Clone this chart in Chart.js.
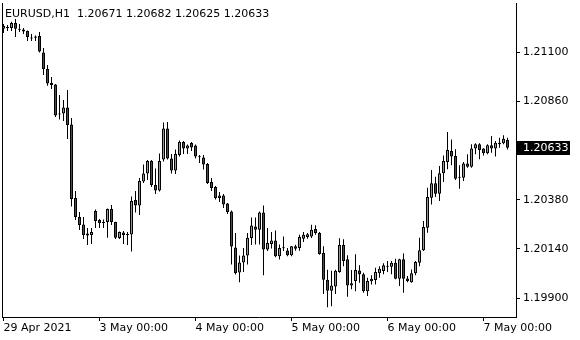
<!DOCTYPE html>
<html>
<head>
<meta charset="utf-8">
<script src="https://cdn.jsdelivr.net/npm/chart.js@4"></script>
<style>
html, body { margin: 0; padding: 0; background: #fff; }
canvas { display: block; }
</style>
</head>
<body>
<canvas id="chart" width="580" height="340"></canvas>
<script>
// EURUSD H1 candles, 29 Apr 2021 -> 7 May 2021 06:00
const symbol = 'EURUSD,H1';

const opens = [
  1.21213, 1.21220, 1.21217, 1.21242, 1.21213, 1.21210, 1.21203, 1.21171, 1.21169, 1.21178,
  1.21098, 1.21017, 1.20949, 1.20942, 1.20800, 1.20800, 1.20830, 1.20747, 1.20388, 1.20296,
  1.20259, 1.20215, 1.20208, 1.20325, 1.20281, 1.20271, 1.20271, 1.20334, 1.20271, 1.20193,
  1.20220, 1.20212, 1.20210, 1.20378, 1.20352, 1.20469, 1.20508, 1.20569, 1.20452, 1.20425,
  1.20576, 1.20727, 1.20581, 1.20522, 1.20598, 1.20661, 1.20630, 1.20656, 1.20644, 1.20588,
  1.20586, 1.20554, 1.20466, 1.20442, 1.20388, 1.20400, 1.20361, 1.20322, 1.20147, 1.20025,
  1.20074, 1.20108, 1.20193, 1.20249, 1.20234, 1.20317, 1.20137, 1.20164, 1.20181, 1.20104,
  1.20144, 1.20132, 1.20109, 1.20153, 1.20144, 1.20190, 1.20198, 1.20201, 1.20237, 1.20217,
  1.20120, 1.19990, 1.19936, 1.19957, 1.20027, 1.20159, 1.20089, 1.19962, 1.19983, 1.20035,
  1.20016, 1.19934, 1.19982, 1.19988, 1.20021, 1.20032, 1.20053, 1.20053, 1.20072, 1.19995,
  1.20089, 1.19996, 1.19978, 1.20021, 1.20072, 1.20134, 1.20243, 1.20390, 1.20460, 1.20409,
  1.20509, 1.20564, 1.20617, 1.20593, 1.20487, 1.20487, 1.20557, 1.20541, 1.20629, 1.20650,
  1.20629, 1.20606, 1.20645, 1.20629, 1.20650, 1.20655, 1.20671
];
const highs = [
  1.21237, 1.21232, 1.21247, 1.21261, 1.21237, 1.21217, 1.21205, 1.21188, 1.21181, 1.21198,
  1.21120, 1.21037, 1.20978, 1.20944, 1.20891, 1.20866, 1.20915, 1.20778, 1.20422, 1.20320,
  1.20296, 1.20242, 1.20242, 1.20332, 1.20286, 1.20283, 1.20337, 1.20354, 1.20273, 1.20225,
  1.20227, 1.20222, 1.20395, 1.20422, 1.20486, 1.20552, 1.20574, 1.20574, 1.20532, 1.20605,
  1.20756, 1.20759, 1.20603, 1.20625, 1.20669, 1.20666, 1.20649, 1.20661, 1.20649, 1.20598,
  1.20598, 1.20559, 1.20486, 1.20447, 1.20417, 1.20408, 1.20364, 1.20327, 1.20217, 1.20108,
  1.20144, 1.20217, 1.20293, 1.20293, 1.20322, 1.20352, 1.20242, 1.20222, 1.20230, 1.20161,
  1.20200, 1.20144, 1.20154, 1.20160, 1.20209, 1.20222, 1.20217, 1.20258, 1.20255, 1.20222,
  1.20153, 1.20038, 1.20033, 1.20038, 1.20192, 1.20187, 1.20109, 1.20037, 1.20114, 1.20060,
  1.20024, 1.19999, 1.20011, 1.20048, 1.20056, 1.20070, 1.20081, 1.20081, 1.20092, 1.20092,
  1.20118, 1.20008, 1.20040, 1.20081, 1.20194, 1.20276, 1.20438, 1.20525, 1.20492, 1.20544,
  1.20596, 1.20710, 1.20674, 1.20626, 1.20548, 1.20564, 1.20601, 1.20650, 1.20655, 1.20655,
  1.20631, 1.20650, 1.20691, 1.20666, 1.20682, 1.20694, 1.20682
];
const lows = [
  1.21193, 1.21203, 1.21203, 1.21173, 1.21198, 1.21188, 1.21154, 1.21154, 1.21154, 1.21098,
  1.20988, 1.20935, 1.20920, 1.20783, 1.20771, 1.20764, 1.20676, 1.20347, 1.20281, 1.20232,
  1.20188, 1.20159, 1.20164, 1.20242, 1.20242, 1.20242, 1.20195, 1.20256, 1.20188, 1.20188,
  1.20164, 1.20159, 1.20127, 1.20317, 1.20305, 1.20461, 1.20476, 1.20442, 1.20408, 1.20420,
  1.20566, 1.20576, 1.20508, 1.20505, 1.20591, 1.20603, 1.20603, 1.20617, 1.20581, 1.20559,
  1.20527, 1.20456, 1.20422, 1.20381, 1.20369, 1.20339, 1.20310, 1.20064, 1.20015, 1.19978,
  1.20027, 1.20064, 1.20159, 1.20161, 1.20161, 1.20012, 1.20130, 1.20142, 1.20099, 1.20088,
  1.20130, 1.20104, 1.20104, 1.20131, 1.20131, 1.20174, 1.20190, 1.20193, 1.20209, 1.20112,
  1.19920, 1.19855, 1.19860, 1.19920, 1.20024, 1.20056, 1.19907, 1.19943, 1.19934, 1.19975,
  1.19926, 1.19910, 1.19967, 1.19967, 1.19999, 1.20016, 1.20027, 1.20016, 1.19992, 1.19959,
  1.19926, 1.19978, 1.19975, 1.20011, 1.20056, 1.20130, 1.20219, 1.20357, 1.20393, 1.20373,
  1.20466, 1.20528, 1.20548, 1.20476, 1.20433, 1.20471, 1.20536, 1.20536, 1.20601, 1.20577,
  1.20596, 1.20601, 1.20609, 1.20590, 1.20633, 1.20650, 1.20625
];
const closes = [
  1.21227, 1.21217, 1.21242, 1.21213, 1.21208, 1.21200, 1.21173, 1.21166, 1.21176, 1.21103,
  1.21017, 1.20947, 1.20939, 1.20791, 1.20795, 1.20830, 1.20744, 1.20383, 1.20296, 1.20256,
  1.20208, 1.20205, 1.20222, 1.20276, 1.20266, 1.20266, 1.20334, 1.20271, 1.20195, 1.20222,
  1.20208, 1.20208, 1.20373, 1.20352, 1.20471, 1.20508, 1.20569, 1.20452, 1.20425, 1.20569,
  1.20727, 1.20581, 1.20522, 1.20603, 1.20661, 1.20630, 1.20644, 1.20634, 1.20591, 1.20587,
  1.20552, 1.20461, 1.20437, 1.20388, 1.20400, 1.20356, 1.20320, 1.20152, 1.20022, 1.20074,
  1.20108, 1.20195, 1.20254, 1.20234, 1.20317, 1.20137, 1.20169, 1.20181, 1.20104, 1.20144,
  1.20143, 1.20109, 1.20153, 1.20141, 1.20198, 1.20209, 1.20212, 1.20233, 1.20217, 1.20115,
  1.19990, 1.19936, 1.19962, 1.20033, 1.20159, 1.20081, 1.19962, 1.19972, 1.20037, 1.20016,
  1.19934, 1.19983, 1.19995, 1.20027, 1.20043, 1.20060, 1.20055, 1.20072, 1.19995, 1.20089,
  1.19995, 1.19983, 1.20021, 1.20076, 1.20134, 1.20247, 1.20393, 1.20460, 1.20409, 1.20509,
  1.20569, 1.20622, 1.20590, 1.20482, 1.20489, 1.20557, 1.20541, 1.20629, 1.20650, 1.20622,
  1.20606, 1.20645, 1.20629, 1.20658, 1.20658, 1.20677, 1.20633
];

// time axis labels sit on bar index
const tickIdx = [0, 24, 48, 72, 96, 120];
const tickLabels = ['29 Apr 2021', '3 May 00:00', '4 May 00:00', '5 May 00:00', '6 May 00:00', '7 May 00:00'];
// price axis labels
const priceTicks = [1.19900, 1.20140, 1.20380, 1.20860, 1.21100];

Chart.defaults.color = 'black';
Chart.defaults.font.family = '"DejaVu Sans", Verdana, sans-serif';
Chart.defaults.font.size = 11;

const idx = opens.map((o, i) => i);
const last = opens.length - 1;

const bodyData = idx.map(i => ({ x: i, y: [opens[i], closes[i]] }));
const wickData = idx.map(i => ({ x: i, y: [lows[i], highs[i]] }));
const bodyColors = idx.map(i => closes[i] >= opens[i] ? '#00ff00' : '#ff0000');

// header line, left frame and the current price tag
const overlay = {
    id: 'overlay',
    afterDraw(chart) {
        const ctx = chart.ctx;
        const area = chart.chartArea;
        ctx.save();
        ctx.strokeStyle = 'black';
        ctx.lineWidth = 1;
        ctx.beginPath();
        ctx.moveTo(area.left + 0.5, area.top);
        ctx.lineTo(area.left + 0.5, area.bottom);
        ctx.stroke();

        ctx.fillStyle = 'black';
        ctx.font = '11px "DejaVu Sans"';
        ctx.textBaseline = 'alphabetic';
        const head = symbol + '  ' + [opens[last], highs[last], lows[last], closes[last]].map(v => v.toFixed(5)).join(' ');
        ctx.fillText(head, 5, 17);

        const py = Math.round(chart.scales.y.getPixelForValue(closes[last]));
        ctx.fillRect(area.right + 1, py - 7, 53, 14);
        ctx.fillStyle = 'white';
        ctx.textBaseline = 'middle';
        ctx.fillText(closes[last].toFixed(5), area.right + 7, py);
        ctx.restore();
    }
};

const ctx = document.getElementById('chart').getContext('2d');
new Chart(ctx, {
    type: 'bar',
    data: {
        datasets: [{
            label: 'body',
            data: bodyData,
            backgroundColor: bodyColors,
            borderColor: 'black',
            borderWidth: 1,
            borderSkipped: false,
            maxBarThickness: 3, // non-grouped bars ignore barThickness
            barPercentage: 1,
            categoryPercentage: 1,
            minBarLength: 1,
            inflateAmount: 0,
            grouped: false
        }, {
            label: 'wick',
            data: wickData,
            backgroundColor: 'black',
            borderWidth: 0,
            maxBarThickness: 1,
            barPercentage: 1,
            categoryPercentage: 1,
            inflateAmount: 0,
            grouped: false
        }]
    },
    options: {
        responsive: false,
        animation: false,
        events: [],
        layout: { padding: { left: 2, top: 3, right: 0, bottom: 0 } },
        plugins: {
            legend: { display: false },
            tooltip: { enabled: false }
        },
        scales: {
            x: {
                type: 'linear',
                offset: false,
                min: -0.375,
                max: 128.125,
                afterFit: (scale) => { scale.height = 23; },
                afterBuildTicks: (scale) => { scale.ticks = tickIdx.map(v => ({ value: v })); },
                grid: { offset: false, drawOnChartArea: false, color: 'black', tickLength: 4 },
                border: { color: 'black' },
                ticks: {
                    align: 'start',
                    padding: 1,
                    maxRotation: 0,
                    autoSkip: false,
                    callback: (v, i) => tickLabels[i]
                }
            },
            y: {
                position: 'right',
                min: 1.19808,
                max: 1.21339,
                afterFit: (scale) => {
                    scale.width = 64;
                    // labels sit well inside the plot, no need for extra room
                    scale.paddingTop = 0;
                    scale.paddingBottom = 0;
                },
                afterBuildTicks: (scale) => { scale.ticks = priceTicks.map(v => ({ value: v })); },
                grid: { drawOnChartArea: false, color: 'black', tickLength: 4 },
                border: { color: 'black' },
                ticks: {
                    padding: 3,
                    callback: (v) => v.toFixed(5)
                }
            }
        }
    },
    plugins: [overlay]
});
</script>
</body>
</html>
